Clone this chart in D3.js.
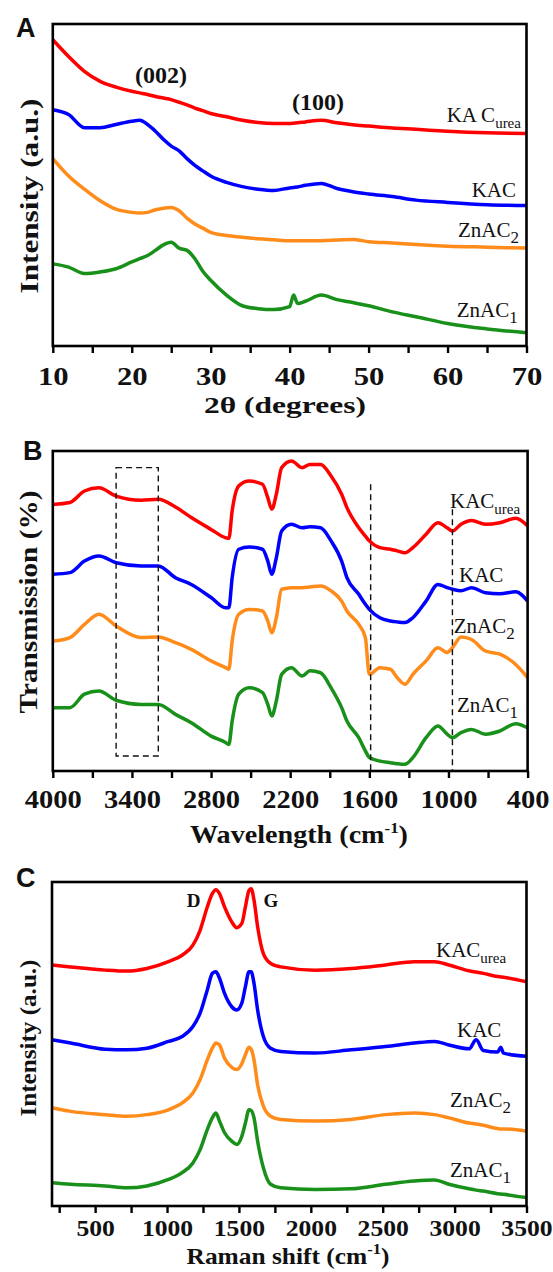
<!DOCTYPE html>
<html>
<head>
<meta charset="utf-8">
<script src="https://cdn.jsdelivr.net/npm/d3@7"></script>
<style>
  html, body { margin: 0; padding: 0; background: #fff; }
  svg { display: block; }
</style>
</head>
<body>
<svg id="chart" width="553" height="1272"></svg>
<script>
// ---------- Panel A : XRD (2θ, intensity a.u.) ----------
const xrdAngle = [10, 12, 14, 16, 18, 20, 21, 22, 23, 24, 25, 26, 27, 28, 29, 30, 32, 34, 36, 38, 40, 40.5, 41, 42, 44, 46, 48, 50, 53, 56, 60, 65, 70];
const xrdKACurea = [95.1, 89.9, 85.3, 82.2, 80.4, 79.1, 78.6, 78.1, 77.5, 77.0, 76.5, 75.7, 74.9, 73.9, 73.1, 72.2, 71.2, 70.1, 69.4, 69.1, 69.1, 69.2, 69.3, 69.6, 70.1, 69.3, 68.7, 68.3, 67.7, 67.3, 66.7, 66.2, 66.0];
const xrdKAC = [73.4, 71.9, 67.8, 67.8, 68.8, 69.8, 70.1, 68.8, 66.7, 64.2, 62.1, 60.6, 58.2, 56.1, 54.4, 52.8, 50.8, 49.5, 48.7, 48.3, 49.1, 49.2, 49.4, 49.9, 50.5, 48.9, 47.9, 47.2, 46.4, 45.3, 44.6, 43.9, 43.6];
const xrdZnAC2 = [58.2, 52.8, 48.7, 45.1, 42.5, 41.5, 41.3, 41.5, 42.3, 42.8, 43.0, 42.0, 39.7, 37.9, 36.6, 35.3, 34.3, 33.8, 33.3, 33.0, 32.7, 32.7, 32.7, 32.7, 32.7, 32.9, 33.1, 32.4, 32.0, 31.5, 31.0, 30.7, 30.4];
const xrdZnAC1 = [25.5, 24.5, 22.5, 23.0, 24.0, 26.1, 27.1, 28.1, 29.7, 31.4, 32.2, 30.4, 29.7, 27.1, 23.2, 20.4, 15.8, 12.5, 11.6, 11.3, 12.2, 15.8, 13.2, 13.9, 15.8, 14.4, 13.5, 12.5, 10.6, 9.1, 7.0, 5.3, 4.1];
const xrdTicks = [10, 15, 20, 25, 30, 35, 40, 45, 50, 55, 60, 65, 70];
const xrdTickLabels = [10, 20, 30, 40, 50, 60, 70];

// ---------- Panel B : FTIR (wavenumber, transmission %) ----------
const irWave = [4000, 3870, 3760, 3650, 3520, 3330, 3200, 3070, 2950, 2800, 2690, 2665, 2640, 2590, 2510, 2410, 2370, 2340, 2305, 2265, 2190, 2110, 2050, 1970, 1890, 1810, 1770, 1680, 1630, 1600, 1520, 1440, 1390, 1330, 1270, 1170, 1080, 1010, 970, 905, 825, 720, 610, 490, 400];
const irKACurea = [83.3, 83.9, 87.5, 88.5, 85.9, 84.6, 84.9, 82.5, 79.2, 75.5, 72.9, 72.7, 81.3, 89.1, 90.6, 89.6, 85.4, 81.8, 86.5, 94.8, 96.9, 94.8, 95.8, 95.8, 92.2, 86.5, 82.3, 76.0, 73.4, 71.9, 69.8, 69.3, 68.8, 68.2, 69.8, 74.0, 77.6, 76.0, 75.0, 77.1, 78.3, 77.1, 77.6, 79.0, 76.6];
const irKAC = [61.5, 62.0, 65.6, 67.2, 65.1, 64.1, 64.1, 60.4, 58.3, 54.2, 51.0, 51.0, 60.4, 69.3, 70.0, 69.3, 65.6, 61.5, 66.7, 75.0, 77.1, 76.0, 76.3, 76.0, 71.9, 65.6, 60.4, 55.2, 52.1, 50.5, 47.9, 46.9, 46.6, 46.4, 47.9, 53.1, 58.3, 57.3, 56.8, 56.3, 57.3, 55.7, 55.4, 56.0, 53.1];
const irZnAC2 = [40.6, 41.7, 45.8, 49.0, 45.3, 41.7, 41.9, 40.1, 38.0, 34.4, 32.3, 31.8, 40.6, 49.0, 50.5, 50.0, 46.9, 43.2, 47.9, 56.8, 57.3, 57.3, 57.5, 57.8, 56.3, 53.1, 50.0, 45.8, 41.7, 30.2, 32.3, 31.8, 29.2, 27.1, 30.2, 34.4, 38.5, 37.0, 38.5, 41.9, 41.1, 37.5, 36.5, 33.3, 29.2];
const irZnAC1 = [19.8, 19.8, 24.0, 25.0, 22.1, 20.8, 20.8, 17.7, 15.1, 10.9, 8.9, 8.3, 15.6, 24.0, 26.0, 24.5, 20.8, 17.2, 21.9, 30.2, 32.3, 29.7, 31.3, 30.7, 26.0, 19.8, 15.6, 10.4, 6.3, 4.2, 3.1, 2.6, 2.3, 2.1, 4.2, 10.4, 14.1, 11.5, 10.4, 12.0, 13.0, 11.5, 12.5, 14.8, 13.5];
const irTicks = [4000, 3700, 3400, 3100, 2800, 2500, 2200, 1900, 1600, 1300, 1000, 700, 400];
const irTickLabels = [4000, 3400, 2800, 2200, 1600, 1000, 400];
const irBoxRange = [3520, 3200];      // dashed box (wavenumber)
const irBoxLevels = [4.7, 94.8];      // dashed box (transmission)
const irMarkers = [1590, 970];        // dashed guide lines
const irMarkerTops = [89.6, 81.8];

// ---------- Panel C : Raman (shift, intensity a.u.) ----------
const ramanShift = [200, 330, 570, 720, 860, 1010, 1105, 1180, 1230, 1280, 1315, 1340, 1365, 1400, 1450, 1485, 1520, 1545, 1570, 1585, 1605, 1630, 1670, 1720, 1790, 2030, 2280, 2520, 2720, 2860, 2960, 3100, 3150, 3200, 3300, 3320, 3340, 3500];
const ramanKACurea = [74.4, 73.8, 72.8, 72.5, 73.3, 75.4, 77.4, 80.5, 85.1, 92.3, 96.4, 97.6, 96.4, 92.3, 87.7, 85.9, 87.2, 92.3, 97.4, 97.9, 94.4, 86.2, 77.9, 74.9, 73.8, 72.8, 73.3, 74.4, 75.4, 75.4, 74.4, 72.6, 72.2, 71.8, 70.8, 70.7, 70.6, 69.2];
const ramanKAC = [51.3, 50.3, 48.4, 48.2, 48.7, 50.8, 52.3, 55.4, 59.5, 66.7, 71.8, 72.3, 70.3, 65.6, 61.5, 60.5, 62.6, 67.7, 72.3, 72.3, 68.7, 60.5, 52.3, 48.7, 47.7, 47.2, 48.2, 49.2, 50.3, 50.8, 49.7, 48.5, 51.3, 48.0, 47.5, 49.0, 47.2, 46.2];
const ramanZnAC2 = [30.3, 29.2, 28.2, 27.7, 28.2, 29.7, 31.8, 34.9, 39.0, 45.1, 48.7, 50.3, 49.7, 45.6, 42.8, 42.1, 43.9, 46.7, 49.0, 48.4, 45.1, 37.4, 30.8, 27.7, 26.7, 26.2, 26.7, 28.2, 28.7, 28.2, 27.2, 25.6, 25.3, 24.9, 23.9, 23.8, 23.8, 23.1];
const ramanZnAC1 = [7.2, 6.7, 6.2, 5.6, 6.2, 8.2, 10.3, 13.3, 17.4, 23.6, 27.2, 28.7, 26.2, 22.6, 20.0, 19.0, 21.5, 25.6, 29.7, 29.5, 27.2, 20.0, 11.8, 6.7, 5.6, 5.1, 5.3, 6.7, 7.7, 8.0, 6.7, 5.3, 4.9, 4.6, 3.8, 3.7, 3.6, 2.6];
const ramanTicks = [250, 500, 750, 1000, 1250, 1500, 1750, 2000, 2250, 2500, 2750, 3000, 3250, 3500];
const ramanTickLabels = [500, 1000, 1500, 2000, 2500, 3000, 3500];

const seriesColors = ['#ff0000', '#0000ff', '#ff8c1a', '#18901a'];

const SERIF = "'Liberation Serif', 'Times New Roman', serif";
const SANS = "'Liberation Sans', Arial, sans-serif";

const svg = d3.select('#chart');
svg.append('rect').attr('width', 553).attr('height', 1272).attr('fill', '#fff');

// label with optional subscript
function seriesLabel(g, x, y, main, sub, subSize) {
  const t = g.append('text').attr('x', x).attr('y', y)
    .attr('font-family', SERIF).attr('font-size', 21).attr('fill', '#111');
  t.append('tspan').text(main);
  if (sub) t.append('tspan').attr('dy', 6).attr('font-size', subSize).text(sub);
}

function drawPanel(p) {
  const g = svg.append('g');
  const x = d3.scaleLinear().domain(p.xDomain).range([p.left, p.right]);
  const y = d3.scaleLinear().domain([0, 100]).range([p.bottom, p.top]);
  const line = d3.line().x(d => x(d[0])).y(d => y(d[1])).curve(d3.curveMonotoneX);

  p.series.forEach((vals, i) => {
    g.append('path')
      .datum(d3.zip(p.xs, vals))
      .attr('d', line)
      .attr('fill', 'none')
      .attr('stroke', seriesColors[i])
      .attr('stroke-width', 3.5)
      .attr('stroke-linejoin', 'round');
  });

  if (p.extras) p.extras(g, x, y);

  // frame
  g.append('rect')
    .attr('x', p.left).attr('y', p.top)
    .attr('width', p.right - p.left).attr('height', p.bottom - p.top)
    .attr('fill', 'none').attr('stroke', '#000').attr('stroke-width', 2.6);

  // x axis
  const axis = d3.axisBottom(x)
    .tickValues(p.ticks)
    .tickSize(p.tickLen)
    .tickSizeOuter(0)
    .tickFormat(d => p.tickLabels.includes(d) ? d : '');
  const ax = g.append('g').attr('transform', `translate(0,${p.bottom})`).call(axis);
  ax.select('.domain').remove();
  ax.selectAll('.tick line').attr('stroke', '#000').attr('stroke-width', 2.4);
  ax.selectAll('.tick text')
    .attr('y', p.tickBase).attr('dy', 0)
    .attr('font-family', SERIF).attr('font-weight', 'bold')
    .attr('font-size', p.tickFont).attr('fill', '#111')
    .attr('transform', `scale(${p.tickScale},1)`);

  // x title
  const xt = g.append('text')
    .attr('font-family', SERIF).attr('font-weight', 'bold')
    .attr('font-size', p.xTitleFont).attr('fill', '#111')
    .attr('text-anchor', 'middle');
  p.xTitle(xt);
  const sx = p.xTitleWidth / xt.node().getComputedTextLength();
  xt.attr('transform', `translate(${p.xTitleX},${p.xTitleY}) scale(${sx},1)`);

  // y title
  const yt = g.append('text')
    .attr('font-family', SERIF).attr('font-weight', 'bold')
    .attr('font-size', p.yTitleFont).attr('fill', '#111')
    .attr('text-anchor', 'middle')
    .text(p.yTitle);
  const sy = p.yTitleLen / yt.node().getComputedTextLength();
  yt.attr('transform', `translate(${p.yTitleX},${p.yTitleY}) rotate(-90) scale(${sy},1)`);

  // panel letter
  g.append('text').attr('x', p.letterX).attr('y', p.letterY)
    .attr('font-family', SANS).attr('font-weight', 'bold')
    .attr('font-size', 27).attr('fill', '#111').text(p.letter);

  p.labels.forEach(l => seriesLabel(g, l[0], l[1], l[2], l[3], l[4]));
}

function cmTitle(prefix) {
  return t => {
    t.append('tspan').text(prefix + ' (cm');
    t.append('tspan').attr('dy', -10).attr('font-size', 15).text('-1');
    t.append('tspan').attr('dy', 10).text(')');
  };
}

// ----- A -----
drawPanel({
  letter: 'A', letterX: 16, letterY: 37,
  left: 52.8, right: 526.5, top: 24, bottom: 346,
  xDomain: [10, 70], xs: xrdAngle,
  series: [xrdKACurea, xrdKAC, xrdZnAC2, xrdZnAC1],
  ticks: xrdTicks, tickLabels: xrdTickLabels, tickLen: 7,
  tickBase: 39, tickFont: 26, tickScale: 1.18,
  xTitle: t => t.text('2θ (degrees)'), xTitleFont: 24, xTitleWidth: 162, xTitleX: 285, xTitleY: 413,
  yTitle: 'Intensity (a.u.)', yTitleFont: 26, yTitleLen: 195, yTitleX: 38, yTitleY: 196,
  labels: [
    [446.7, 121.7, 'KA C', 'urea', 15],
    [471.7, 196.7, 'KAC'],
    [458, 236.7, 'ZnAC', '2', 17],
    [456.7, 316.7, 'ZnAC', '1', 17]
  ],
  extras: (g) => {
    g.append('text').attr('x', 161).attr('y', 83).attr('text-anchor', 'middle')
      .attr('font-family', SERIF).attr('font-weight', 'bold').attr('font-size', 24)
      .attr('fill', '#111').text('(002)');
    g.append('text').attr('x', 318).attr('y', 110).attr('text-anchor', 'middle')
      .attr('font-family', SERIF).attr('font-weight', 'bold').attr('font-size', 24)
      .attr('fill', '#111').text('(100)');
  }
});

// ----- B -----
drawPanel({
  letter: 'B', letterX: 23, letterY: 460,
  left: 52.8, right: 527.6, top: 451, bottom: 771,
  xDomain: [4000, 400], xs: irWave,
  series: [irKACurea, irKAC, irZnAC2, irZnAC1],
  ticks: irTicks, tickLabels: irTickLabels, tickLen: 7,
  tickBase: 37.5, tickFont: 25, tickScale: 1.14,
  xTitle: cmTitle('Wavelength'), xTitleFont: 25, xTitleWidth: 218, xTitleX: 299, xTitleY: 843,
  yTitle: 'Transmission (%)', yTitleFont: 26, yTitleLen: 223, yTitleX: 37, yTitleY: 602,
  labels: [
    [450, 508, 'KAC', 'urea', 15],
    [459, 581.7, 'KAC'],
    [453.7, 633, 'ZnAC', '2', 17],
    [457, 711.7, 'ZnAC', '1', 17]
  ],
  extras: (g, x, y) => {
    g.append('rect')
      .attr('x', x(irBoxRange[0])).attr('y', y(irBoxLevels[1]))
      .attr('width', x(irBoxRange[1]) - x(irBoxRange[0]))
      .attr('height', y(irBoxLevels[0]) - y(irBoxLevels[1]))
      .attr('fill', 'none').attr('stroke', '#111').attr('stroke-width', 1.4)
      .attr('stroke-dasharray', '6,4');
    irMarkers.forEach((m, i) => {
      g.append('line')
        .attr('x1', x(m)).attr('x2', x(m))
        .attr('y1', y(irMarkerTops[i])).attr('y2', y(0))
        .attr('stroke', '#111').attr('stroke-width', 1.4)
        .attr('stroke-dasharray', '6,4');
    });
  }
});

// ----- C -----
drawPanel({
  letter: 'C', letterX: 16, letterY: 887,
  left: 52, right: 526.5, top: 882, bottom: 1206,
  xDomain: [200, 3500], xs: ramanShift,
  series: [ramanKACurea, ramanKAC, ramanZnAC2, ramanZnAC1],
  ticks: ramanTicks, tickLabels: ramanTickLabels, tickLen: 7,
  tickBase: 30.5, tickFont: 22.5, tickScale: 1.14,
  xTitle: cmTitle('Raman shift'), xTitleFont: 23, xTitleWidth: 203, xTitleX: 288, xTitleY: 1264,
  yTitle: 'Intensity (a.u.)', yTitleFont: 23, yTitleLen: 157, yTitleX: 36, yTitleY: 1038,
  labels: [
    [436, 956.7, 'KAC', 'urea', 15],
    [457, 1036.7, 'KAC'],
    [450, 1106.7, 'ZnAC', '2', 17],
    [450, 1176.7, 'ZnAC', '1', 17]
  ],
  extras: (g) => {
    g.append('text').attr('x', 193.5).attr('y', 906.7).attr('text-anchor', 'middle')
      .attr('font-family', SERIF).attr('font-weight', 'bold').attr('font-size', 19)
      .attr('fill', '#111').text('D');
    g.append('text').attr('x', 271).attr('y', 906.7).attr('text-anchor', 'middle')
      .attr('font-family', SERIF).attr('font-weight', 'bold').attr('font-size', 19)
      .attr('fill', '#111').text('G');
  }
});
</script>
</body>
</html>
